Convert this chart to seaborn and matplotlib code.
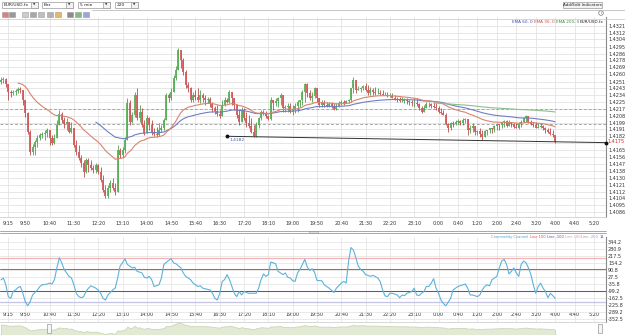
import numpy as np
import pandas as pd
import seaborn as sns
import matplotlib
matplotlib.use('Agg')
import matplotlib.pyplot as plt
from matplotlib.patches import Rectangle, Circle
import matplotlib.transforms as mtransforms

# Данные (5-минутные бары EUR/USD.fx, 9:00 -> 4:00)
time_labels = ['9:15', '9:50', '10:40', '11:30', '12:20', '13:10', '14:00', '14:50',
               '15:40', '16:30', '17:20', '18:10', '19:00', '19:50', '20:40', '21:30',
               '22:20', '23:10', '0:00', '0:40', '1:20', '2:00', '2:40', '3:20',
               '4:00', '4:40', '5:20']

first_open = 1.4250
closes = [
    1.4253, 1.4254, 1.4248, 1.4238, 1.4237, 1.4238, 1.4239, 1.4242, 1.4240, 1.4228, 1.4211, 1.4187, 1.4162,
    1.4168,
    1.4175, 1.4180, 1.4184, 1.4185, 1.4186, 1.4190, 1.4180, 1.4174, 1.4180, 1.4196, 1.4210, 1.4203,
    1.4198, 1.4200, 1.4187, 1.4192, 1.4171, 1.4162, 1.4155, 1.4148, 1.4137, 1.4152, 1.4146, 1.4142,
    1.4140,
    1.4146, 1.4137, 1.4127, 1.4114, 1.4107, 1.4117, 1.4123, 1.4117, 1.4112, 1.4165, 1.4158, 1.4165,
    1.4177, 1.4224, 1.4200, 1.4209, 1.4234, 1.4205, 1.4213, 1.4196, 1.4186, 1.4205, 1.4196, 1.4187,
    1.4185,
    1.4184, 1.4190, 1.4192, 1.4203, 1.4234, 1.4230, 1.4238, 1.4255, 1.4266, 1.4291, 1.4278, 1.4263,
    1.4247, 1.4243, 1.4228, 1.4234, 1.4232, 1.4228, 1.4234, 1.4230, 1.4228, 1.4229, 1.4223, 1.4218,
    1.4214,
    1.4210, 1.4208, 1.4221, 1.4228, 1.4225, 1.4238, 1.4230, 1.4221, 1.4209, 1.4200, 1.4215, 1.4205,
    1.4199, 1.4195, 1.4187, 1.4182, 1.4196, 1.4205, 1.4213, 1.4211, 1.4208, 1.4204, 1.4228, 1.4224,
    1.4226,
    1.4230, 1.4234, 1.4218, 1.4219, 1.4220, 1.4213, 1.4215, 1.4220, 1.4225, 1.4228, 1.4238, 1.4248,
    1.4237, 1.4230, 1.4233, 1.4243, 1.4230, 1.4221, 1.4224, 1.4221, 1.4220, 1.4223, 1.4219, 1.4216,
    1.4220,
    1.4224, 1.4225, 1.4224, 1.4227, 1.4228, 1.4243, 1.4253, 1.4240, 1.4242, 1.4243, 1.4245, 1.4240,
    1.4237, 1.4240, 1.4238, 1.4237, 1.4237, 1.4235, 1.4234, 1.4234, 1.4233, 1.4233, 1.4230, 1.4229,
    1.4228,
    1.4227, 1.4227, 1.4228, 1.4227, 1.4225, 1.4224, 1.4224, 1.4223, 1.4218, 1.4213, 1.4218, 1.4223,
    1.4223, 1.4220, 1.4219, 1.4218, 1.4213, 1.4211, 1.4209, 1.4198, 1.4192, 1.4199, 1.4198, 1.4200,
    1.4201,
    1.4199, 1.4203, 1.4204, 1.4190, 1.4192, 1.4195, 1.4187, 1.4189, 1.4185, 1.4181, 1.4189, 1.4190,
    1.4192, 1.4191, 1.4195, 1.4198, 1.4196, 1.4200, 1.4201, 1.4195, 1.4200, 1.4198, 1.4194, 1.4192,
    1.4197,
    1.4200, 1.4205, 1.4208, 1.4200, 1.4198, 1.4196, 1.4192, 1.4194, 1.4195, 1.4192, 1.4190, 1.4187,
    1.4185, 1.4184, 1.4175,
]
highs = [
    1.4257, 1.4257, 1.4255, 1.4248, 1.4240, 1.4240, 1.4242, 1.4244, 1.4244, 1.4240, 1.4228, 1.4213, 1.4190,
    1.4172,
    1.4177, 1.4184, 1.4186, 1.4187, 1.4190, 1.4192, 1.4190, 1.4184, 1.4185, 1.4203, 1.4215, 1.4213,
    1.4206, 1.4205, 1.4200, 1.4200, 1.4192, 1.4177, 1.4171, 1.4158, 1.4152, 1.4155, 1.4155, 1.4152,
    1.4146,
    1.4148, 1.4147, 1.4143, 1.4133, 1.4121, 1.4121, 1.4127, 1.4129, 1.4123, 1.4171, 1.4167, 1.4169,
    1.4181, 1.4230, 1.4228, 1.4213, 1.4238, 1.4243, 1.4221, 1.4218, 1.4203, 1.4209, 1.4206, 1.4203,
    1.4192,
    1.4194, 1.4199, 1.4196, 1.4205, 1.4237, 1.4237, 1.4243, 1.4259, 1.4271, 1.4293, 1.4288, 1.4281,
    1.4266, 1.4250, 1.4244, 1.4238, 1.4240, 1.4243, 1.4240, 1.4237, 1.4234, 1.4232, 1.4232, 1.4225,
    1.4220,
    1.4221, 1.4215, 1.4228, 1.4232, 1.4230, 1.4240, 1.4234, 1.4230, 1.4221, 1.4215, 1.4219, 1.4218,
    1.4213, 1.4209, 1.4205, 1.4196, 1.4200, 1.4206, 1.4215, 1.4215, 1.4214, 1.4209, 1.4232, 1.4228,
    1.4230,
    1.4232, 1.4237, 1.4234, 1.4221, 1.4224, 1.4224, 1.4221, 1.4224, 1.4228, 1.4228, 1.4240, 1.4249,
    1.4249, 1.4240, 1.4238, 1.4244, 1.4243, 1.4230, 1.4228, 1.4228, 1.4225, 1.4225, 1.4225, 1.4224,
    1.4224,
    1.4227, 1.4228, 1.4228, 1.4228, 1.4229, 1.4243, 1.4257, 1.4249, 1.4245, 1.4244, 1.4247, 1.4249,
    1.4247, 1.4244, 1.4243, 1.4244, 1.4243, 1.4240, 1.4240, 1.4238, 1.4238, 1.4237, 1.4237, 1.4234,
    1.4232,
    1.4232, 1.4232, 1.4230, 1.4230, 1.4228, 1.4228, 1.4230, 1.4230, 1.4224, 1.4220, 1.4221, 1.4225,
    1.4225, 1.4224, 1.4225, 1.4224, 1.4220, 1.4218, 1.4215, 1.4211, 1.4199, 1.4200, 1.4201, 1.4203,
    1.4204,
    1.4203, 1.4205, 1.4205, 1.4203, 1.4196, 1.4199, 1.4192, 1.4190, 1.4192, 1.4190, 1.4190, 1.4190,
    1.4192, 1.4192, 1.4196, 1.4199, 1.4196, 1.4200, 1.4203, 1.4203, 1.4203, 1.4200, 1.4199, 1.4199,
    1.4200,
    1.4203, 1.4206, 1.4209, 1.4205, 1.4203, 1.4200, 1.4200, 1.4199, 1.4199, 1.4196, 1.4194, 1.4192,
    1.4192, 1.4190, 1.4184,
]
lows = [
    1.4248, 1.4249, 1.4244, 1.4228, 1.4232, 1.4234, 1.4234, 1.4237, 1.4237, 1.4221, 1.4206, 1.4185, 1.4158,
    1.4158,
    1.4158, 1.4169, 1.4177, 1.4180, 1.4177, 1.4181, 1.4171, 1.4171, 1.4172, 1.4180, 1.4196, 1.4199,
    1.4192, 1.4190, 1.4186, 1.4186, 1.4169, 1.4158, 1.4152, 1.4143, 1.4131, 1.4136, 1.4137, 1.4140,
    1.4136,
    1.4136, 1.4135, 1.4124, 1.4112, 1.4104, 1.4104, 1.4112, 1.4114, 1.4108, 1.4112, 1.4155, 1.4155,
    1.4161, 1.4177, 1.4196, 1.4199, 1.4206, 1.4203, 1.4200, 1.4194, 1.4184, 1.4186, 1.4190, 1.4184,
    1.4182,
    1.4181, 1.4182, 1.4187, 1.4190, 1.4203, 1.4225, 1.4228, 1.4238, 1.4253, 1.4266, 1.4268, 1.4259,
    1.4243, 1.4238, 1.4225, 1.4225, 1.4228, 1.4225, 1.4224, 1.4225, 1.4221, 1.4224, 1.4219, 1.4213,
    1.4210,
    1.4208, 1.4205, 1.4208, 1.4220, 1.4224, 1.4224, 1.4221, 1.4215, 1.4205, 1.4196, 1.4200, 1.4203,
    1.4194, 1.4192, 1.4186, 1.4181, 1.4181, 1.4192, 1.4203, 1.4209, 1.4205, 1.4203, 1.4203, 1.4215,
    1.4220,
    1.4219, 1.4221, 1.4213, 1.4213, 1.4213, 1.4211, 1.4209, 1.4211, 1.4213, 1.4219, 1.4221, 1.4225,
    1.4232, 1.4228, 1.4225, 1.4230, 1.4225, 1.4219, 1.4219, 1.4219, 1.4219, 1.4219, 1.4218, 1.4215,
    1.4215,
    1.4219, 1.4221, 1.4221, 1.4224, 1.4224, 1.4225, 1.4237, 1.4237, 1.4240, 1.4238, 1.4240, 1.4239,
    1.4234, 1.4234, 1.4234, 1.4234, 1.4235, 1.4234, 1.4234, 1.4234, 1.4232, 1.4232, 1.4230, 1.4228,
    1.4225,
    1.4225, 1.4225, 1.4224, 1.4223, 1.4221, 1.4220, 1.4219, 1.4220, 1.4215, 1.4211, 1.4213, 1.4218,
    1.4219, 1.4218, 1.4218, 1.4215, 1.4211, 1.4210, 1.4209, 1.4196, 1.4187, 1.4190, 1.4194, 1.4196,
    1.4197,
    1.4196, 1.4196, 1.4199, 1.4184, 1.4186, 1.4187, 1.4184, 1.4184, 1.4181, 1.4177, 1.4181, 1.4184,
    1.4186, 1.4186, 1.4187, 1.4190, 1.4190, 1.4192, 1.4194, 1.4194, 1.4196, 1.4194, 1.4192, 1.4192,
    1.4191,
    1.4194, 1.4200, 1.4200, 1.4199, 1.4196, 1.4194, 1.4192, 1.4192, 1.4192, 1.4190, 1.4186, 1.4186,
    1.4184, 1.4181, 1.4174,
]

# EMA: период, первый видимый бар, цвет
ema_periods = [60, 30, 200]
ema_first_bar = [39, 7, 178]
ema_colors = ['#6f7fc4', '#d8846f', '#8cc08c']

price_ticks = [1.4321, 1.4312, 1.4304, 1.4295, 1.4286, 1.4278, 1.4269, 1.4260, 1.4251, 1.4243,
               1.4234, 1.4225, 1.4217, 1.4208, 1.4199, 1.4191, 1.4182, 1.4173, 1.4165, 1.4156,
               1.4147, 1.4138, 1.4130, 1.4121, 1.4112, 1.4104, 1.4095, 1.4086]
dashed_levels = [1.4216, 1.4198]
trend_bars = [93, 249]
trend_prices = [1.4182, 1.4174]

# Commodity Channel Index (14)
cci_bar = [0, 1, 2, 3, 4, 5, 6, 7, 8, 9, 10, 11, 12, 13, 15, 16, 17, 19, 20, 21, 22, 23, 24, 25, 26,
           28, 29, 30, 31, 32, 33, 34, 35, 36, 37, 39, 40, 41, 42, 43, 44, 46, 47, 48, 49, 50, 51, 52,
           54, 55, 56, 58, 59, 60, 61, 62, 63, 65, 66, 67, 69, 70, 71, 72, 74, 75, 76, 78, 79, 81, 82,
           83, 84, 86, 87, 88, 89, 90, 91, 92, 93, 94, 95, 96, 97, 98, 99, 100, 102, 103, 105, 106,
           107, 108, 109, 110, 111, 112, 113, 114, 116, 117, 118, 119, 120, 121, 122, 123, 124, 125,
           126, 127, 128, 129, 130, 132, 133, 135, 137, 138, 140, 141, 142, 143, 144, 145, 146, 147,
           148, 149, 150, 152, 153, 155, 156, 157, 158, 159, 160, 161, 163, 164, 165, 166, 167, 169,
           170, 171, 172, 173, 174, 175, 176, 177, 178, 179, 180, 181, 182, 183, 185, 186, 187, 188,
           190, 191, 192, 193, 194, 196, 197, 198, 199, 200, 201, 202, 204, 205, 206, 207, 208, 209,
           210, 211, 212, 213, 214, 215, 216, 217, 218, 219, 220, 221, 222, 223, 224, 225, 226, 227,
           228]
cci_val = [0, 17, -45, -152, -168, -106, -91, -69, -60, -122, -198, -235, -198, -137, -91, -60, -45,
           -38, -29, -38, 2, 109, 201, 155, 94, 32, 17, -45, -122, -152, -162, -152, -106, -75, -54,
           -75, -91, -122, -168, -183, -137, -91, -75, 17, 125, 155, 192, 140, 109, 115, 78, 63, 23,
           17, 32, 2, -60, -45, 17, 140, 177, 192, 155, 146, 109, 63, 32, 2, -29, -60, -54, -75, -81,
           -91, -122, -168, -183, -122, -14, 2, 48, 2, -60, -122, -152, -106, -137, -106, -122, -122,
           -122, -75, 2, 54, 32, 48, 162, 155, 146, 78, 48, 63, 23, 17, -8, -14, 63, 94, 140, 186,
           117, 86, 101, 70, -5, -8, -45, -75, -115, -75, -29, -14, -29, 171, 294, 270, 201, 125, 94,
           78, 48, 32, 42, 17, -14, -91, -146, -152, -122, -122, -137, -162, -137, -143, -122, -106,
           -75, -137, -143, -122, -106, -60, -60, -29, 11, -75, -122, -183, -214, -235, -168, -91,
           -75, -60, -45, -38, -75, -137, -137, -152, -137, -91, -60, -45, -54, 2, 32, 109, 171, 186,
           140, 54, 78, 109, 63, 32, 140, 171, 155, 109, 48, -45, -122, -60, -29, -75, -106, -162,
           -122, -143, -168]
cci_levels = [200, 100, -100, -200]
cci_level_colors = ['#f4b4b4', '#d9534f', '#56569c', '#c4c4e6']
cci_ticks = [344.2, 280.9, 217.5, 154.2, 90.8, 27.5, -35.8, -99.2, -162.5, -225.8, -289.2, -352.5]

W, H = 625, 335


def px_rect(x0, y0, x1, y1):
    return [x0 / W, 1 - y1 / H, (x1 - x0) / W, (y1 - y0) / H]


def label_to_bar(lbl):
    h, m = map(int, lbl.split(':'))
    minutes = (h * 60 + m - 9 * 60) % (24 * 60)
    return minutes / 5


sns.set_style('white')
plt.rcParams['font.family'] = ['DejaVu Sans']

fig = plt.figure(figsize=(W / 100, H / 100), dpi=100)

n = len(closes)
bars = np.arange(n)
c = np.array(closes)
o = np.array([first_open] + closes[:-1])
hi = np.maximum(np.array(highs), np.maximum(o, c))
lo = np.minimum(np.array(lows), np.minimum(o, c))
tick_pos = [label_to_bar(t) for t in time_labels]
xlim = (-0.4, 248.9)

# ---------- основной график цены ----------
ax = fig.add_axes(px_rect(0, 17, 606, 217))
ax.set_xlim(*xlim)
ax.set_ylim(1.40803, 1.43323)
ax.set_xticks(tick_pos)
ax.set_xticklabels(time_labels)
ax.set_yticks(price_ticks)
# подпись ближайшего к последней цене уровня прячем: там стоит красная метка
near = int(np.argmin(np.abs(np.array(price_ticks) - closes[-1])))
ax.set_yticklabels(['' if k == near else f'{p:.4f}' for k, p in enumerate(price_ticks)])
ax.yaxis.tick_right()
ax.grid(True, color='#e3e3e3', lw=0.6)
ax.tick_params(axis='both', length=0, labelsize=3.5, colors='#333333')
ax.tick_params(axis='x', pad=3)
ax.tick_params(axis='y', pad=1.5)
for s in ['left', 'top']:
    ax.spines[s].set_visible(False)
ax.spines['bottom'].set_color('#cfcfcf')
ax.spines['right'].set_color('#8a8a8a')
ax.spines['bottom'].set_linewidth(0.6)
ax.spines['right'].set_linewidth(0.8)

for lvl in dashed_levels:
    ax.axhline(lvl, color='#a8a8a8', lw=0.7, ls=(0, (3, 2)), zorder=1)

up = c >= o
ax.vlines(bars[up], lo[up], hi[up], color='#2f8a2f', lw=0.5, zorder=3)
ax.vlines(bars[~up], lo[~up], hi[~up], color='#a82828', lw=0.5, zorder=3)
ax.vlines(bars[up], o[up], c[up], color='#58b058', lw=1.3, zorder=3)
ax.vlines(bars[~up], o[~up], c[~up], color='#d45a5a', lw=1.3, zorder=3)

df = pd.DataFrame({'bar': bars, 'close': c})
for period, start, col in zip(ema_periods, ema_first_bar, ema_colors):
    ema = df['close'].ewm(span=period, adjust=False).mean()
    keep = df['bar'] >= start
    part = pd.DataFrame({'bar': df['bar'][keep], 'ema': ema[keep]})
    sns.lineplot(data=part, x='bar', y='ema', color=col, lw=0.8, ax=ax, zorder=4)
ax.set_xlabel('')
ax.set_ylabel('')

ax.plot(trend_bars, trend_prices, color='#333333', lw=0.7, zorder=5, clip_on=False)
ax.plot(trend_bars, trend_prices, 'o', ms=1.8, color='#111111', zorder=6, clip_on=False)
ax.text(trend_bars[0] + 1, trend_prices[0] - 0.00045, f'{trend_prices[0]:.4f}',
        fontsize=3.2, color='#3d5aa8', va='center')

trans = mtransforms.blended_transform_factory(ax.transAxes, ax.transData)
ax.text(1.003, closes[-1], f'{closes[-1]:.4f}', transform=trans, fontsize=3.5,
        color='#e02020', va='center', ha='left')

# ---------- CCI ----------
ax2 = fig.add_axes(px_rect(0, 237, 606, 322))
ax2.set_xlim(*xlim)
ax2.set_ylim(-382.7, 389.6)
ax2.set_xticks(tick_pos)
ax2.set_xticklabels(time_labels)
ax2.set_yticks(cci_ticks)
ax2.set_yticklabels([f'{v:.1f}' for v in cci_ticks])
ax2.yaxis.tick_right()
ax2.grid(True, color='#e6e6e6', lw=0.6)
ax2.tick_params(axis='both', length=0, labelsize=3.5, colors='#333333')
ax2.tick_params(axis='x', pad=-7.5)
ax2.tick_params(axis='y', pad=1.5)
for s in ['left', 'top', 'bottom']:
    ax2.spines[s].set_visible(False)
ax2.spines['right'].set_color('#8a8a8a')
ax2.spines['right'].set_linewidth(0.8)

for lvl, col in zip(cci_levels, cci_level_colors):
    ax2.axhline(lvl, color=col, lw=0.9 if abs(lvl) == 200 else 0.75, zorder=2)
sns.lineplot(x=cci_bar, y=cci_val, color='#5eb2da', lw=0.8, ax=ax2, zorder=4)

# ---------- навигатор ----------
ax3 = fig.add_axes(px_rect(0, 322, 606, 335))
ax3.set_xlim(*xlim)
ax3.set_ylim(1.4092, 1.4295)
ax3.fill_between(bars, c, 1.4092, color='#e2ead5', edgecolor='#c8d7b4', lw=0.6)
ax3.axis('off')

# ---------- элементы интерфейса ----------
ov = fig.add_axes([0, 0, 1, 1], zorder=10)
ov.set_xlim(0, W)
ov.set_ylim(H, 0)
ov.axis('off')
ov.patch.set_alpha(0)

# выпадающие списки
for x0, x1, txt in [(2, 38, 'EUR/USD.fx'), (42, 73, 'Bar'), (78, 110, '5 min'), (115, 138, '220')]:
    ov.add_patch(Rectangle((x0, 1.5), x1 - x0, 6.5, fc='white', ec='#9a9a9a', lw=0.5))
    ov.add_patch(Rectangle((x1 - 7, 1.5), 7, 6.5, fc='#f2f2f2', ec='#9a9a9a', lw=0.5))
    ov.text(x0 + 2, 4.9, txt, fontsize=3.2, va='center', color='#222222')
    ov.text(x1 - 3.5, 4.9, '▼', fontsize=2.2, va='center', ha='center', color='#333333')

# панель иконок
for x0, col in [(2, '#d9534f'), (9, '#777777'), (22, '#bbbbbb'), (30, '#8a8a8a'), (38, '#aaaaaa'),
                (47, '#999999'), (55, '#e0a030'), (67, '#666666'), (75, '#5aa55a'), (83, '#7a8ad0')]:
    ov.add_patch(Rectangle((x0, 11.5), 5.5, 5.5, fc=col, ec='#888888', lw=0.4, alpha=0.75))
ov.plot([0, W], [19, 19], color='#c8c8c8', lw=0.5)
ov.plot([92, W], [10, 10], color='#b0b0b0', lw=0.5)

# кнопка индикаторов
ov.add_patch(Rectangle((563, 1.5), 39, 6.5, fc='#f3f3f3', ec='#9a9a9a', lw=0.5))
ov.text(582.5, 4.9, 'Add/Edit Indicators', fontsize=3.0, ha='center', va='center', color='#222222')
ov.add_patch(Circle((601, 13), 2.3, fc='white', ec='#777777', lw=0.5))
ov.text(601, 13.2, 'i', fontsize=2.8, ha='center', va='center', color='#555555')

# легенды: собираем справа налево, чтобы куски не наезжали друг на друга
renderer = fig.canvas.get_renderer()


def legend_row(parts, x_right, y, size):
    x = x_right
    for txt, col in reversed(parts):
        t = ov.text(x, y, txt, fontsize=size, va='center', ha='right', color=col)
        x -= t.get_window_extent(renderer).width + 1.2


legend_row([('EMA 60, 0', '#3c4fa8'), ('EMA 30, 0', '#c8503c'),
            ('EMA 200, 0', '#3c8a3c'), ('EUR/USD.fx', '#222222')], 604, 22, 3.0)
legend_row([('Commodity Channel', '#4aa3d0'), ('Line 100', '#d9534f'), ('Line -100', '#56569c'),
            ('Line 200', '#e49a9a'), ('Line -200', '#9a9ad0'), ('14', '#3c6fb0')], 604, 237, 2.6)

# разделитель и полоса прокрутки
ov.plot([0, 606], [230.5, 230.5], color='#9a9a9a', lw=0.6)
ov.plot([0, 606], [233, 233], color='#9a9a9a', lw=0.6)
ov.add_patch(Rectangle((309, 230.5), 9, 2.5, fc='#dddddd', ec='#aaaaaa', lw=0.4))

# ручки навигатора
for xh in [47, 598]:
    ov.add_patch(Rectangle((xh, 324), 4, 9, fc='#f6f6f6', ec='#999999', lw=0.5))
ov.plot([0, 606], [322, 322], color='#c8c8c8', lw=0.5)

fig.savefig('out.png', dpi=100)
